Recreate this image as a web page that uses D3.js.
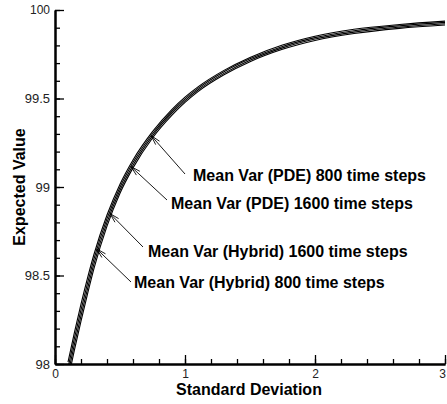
<!DOCTYPE html>
<html>
<head>
<meta charset="utf-8">
<script src="https://cdn.jsdelivr.net/npm/d3@7"></script>
<style>
  body { margin: 0; background: #fff; }
  svg { display: block; font-family: "Liberation Sans", Arial, Helvetica, sans-serif; }
</style>
</head>
<body>
<svg></svg>
<script>
// Data
//------------------------------------------
var stdDev = [0.10, 0.15, 0.20, 0.25, 0.30, 0.40, 0.50, 0.60, 0.75, 0.90,
              1.00, 1.10, 1.30, 1.50, 1.75, 2.00, 2.30, 2.65, 3.00];

var pde800     = [98.010, 98.180, 98.338, 98.485, 98.620, 98.842, 99.016, 99.153, 99.313, 99.439,
                  99.508, 99.566, 99.659, 99.732, 99.802, 99.852, 99.891, 99.918, 99.937];
var pde1600    = [97.977, 98.147, 98.306, 98.455, 98.594, 98.821, 98.999, 99.138, 99.301, 99.428,
                  99.498, 99.557, 99.651, 99.724, 99.794, 99.844, 99.883, 99.911, 99.930];
var hybrid1600 = [97.944, 98.114, 98.274, 98.425, 98.567, 98.800, 98.982, 99.123, 99.289, 99.417,
                  99.488, 99.548, 99.642, 99.716, 99.786, 99.836, 99.875, 99.903, 99.922];
var hybrid800  = [97.911, 98.081, 98.242, 98.395, 98.540, 98.779, 98.965, 99.108, 99.277, 99.406,
                  99.478, 99.539, 99.634, 99.708, 99.778, 99.828, 99.867, 99.896, 99.915];

var seriesNames = ["Mean Var (PDE) 800 time steps", "Mean Var (PDE) 1600 time steps",
                   "Mean Var (Hybrid) 1600 time steps", "Mean Var (Hybrid) 800 time steps"];
// where each arrow touches its curve (std dev, expected value)
var tipX = [0.74, 0.585, 0.423, 0.321];
var tipY = [99.29, 99.115, 98.85, 98.65];

var xMajor = [0, 1, 2, 3];
var yMajor = [98, 98.5, 99, 99.5, 100];

// Step 1: Set up chart
//------------------------------------------
var svgWidth = 447;
var svgHeight = 404;
var margin = { top: 10, right: 2, bottom: 40, left: 55 };
var width = svgWidth - margin.left - margin.right;
var height = svgHeight - margin.top - margin.bottom;

var svg = d3.select("svg")
    .attr("width", svgWidth)
    .attr("height", svgHeight);

var chartGroup = svg.append("g")
    .attr("transform", `translate(${margin.left},${margin.top})`);

// Step 2: Scales
//------------------------------------------
var xScale = d3.scaleLinear().domain([0, 3]).range([0, width]);
var yScale = d3.scaleLinear().domain([98, 100]).range([height, 0]);

// Step 3: Axes (ticks point inward)
//------------------------------------------
var xMinor = d3.range(0, 3.001, 0.2);
var yMinor = d3.range(98, 100.001, 0.1);

chartGroup.append("g")
    .attr("transform", `translate(0, ${height})`)
    .call(d3.axisBottom(xScale).tickValues(xMinor).tickSizeInner(-5).tickSizeOuter(0).tickFormat(""));

chartGroup.append("g")
    .call(d3.axisLeft(yScale).tickValues(yMinor).tickSizeInner(-5).tickSizeOuter(0).tickFormat(""));

var xAxis = chartGroup.append("g")
    .attr("transform", `translate(0, ${height})`)
    .call(d3.axisBottom(xScale).tickValues(xMajor).tickSizeInner(-9).tickSizeOuter(0)
        .tickPadding(5).tickFormat(d3.format("d")));

var yAxis = chartGroup.append("g")
    .call(d3.axisLeft(yScale).tickValues(yMajor).tickSizeInner(-9).tickSizeOuter(0)
        .tickPadding(5).tickFormat(d3.format("")));

chartGroup.selectAll(".domain").attr("stroke", "#000").attr("stroke-width", 2);
chartGroup.selectAll(".tick line").attr("stroke", "#000").attr("stroke-width", 1.3);
xAxis.selectAll("text").attr("font-size", 12).attr("fill", "#222");
yAxis.selectAll("text").attr("font-size", 13).attr("fill", "#222");
yAxis.selectAll(".tick").filter(d => d === 100).select("text").attr("font-size", 12);
// the last x label sits on the right edge, keep it inside
xAxis.selectAll(".tick").filter(d => d === 3).select("text").attr("dx", -3);

// axis titles
svg.append("text")
    .attr("x", 249)
    .attr("y", 395)
    .attr("text-anchor", "middle")
    .attr("font-size", 16)
    .attr("font-weight", "bold")
    .text("Standard Deviation");

svg.append("text")
    .attr("transform", `translate(25, ${margin.top + height / 2}) rotate(-90)`)
    .attr("text-anchor", "middle")
    .attr("font-size", 16)
    .attr("font-weight", "bold")
    .text("Expected Value");

// Step 4: The four curves
//------------------------------------------
svg.append("defs").append("clipPath").attr("id", "plotClip")
    .append("rect").attr("x", 0).attr("y", -2).attr("width", width + 2).attr("height", height + 2);

var line = d3.line()
    .x((d, i) => xScale(stdDev[i]))
    .y(d => yScale(d))
    .curve(d3.curveMonotoneX);

chartGroup.append("g")
    .attr("clip-path", "url(#plotClip)")
    .selectAll("path")
    .data([pde800, pde1600, hybrid1600, hybrid800])
    .enter()
    .append("path")
    .attr("d", line)
    .attr("fill", "none")
    .attr("stroke", "#000")
    .attr("stroke-width", 1.1);

// Step 5: Labels with arrows
//------------------------------------------
var labelPos = [
  { tx: 193, ty: 181, ax: 185, ay: 174 },
  { tx: 171, ty: 209, ax: 167, ay: 200 },
  { tx: 148, ty: 257, ax: 143, ay: 247 },
  { tx: 134, ty: 288, ax: 131, ay: 282 }
];

seriesNames.forEach(function(name, i) {
  var p = labelPos[i];
  var px = xScale(tipX[i]) + margin.left;
  var py = yScale(tipY[i]) + margin.top;
  var ang = Math.atan2(p.ay - py, p.ax - px);
  var len = 10, spread = 0.26;
  var h1 = [px + len * Math.cos(ang + spread), py + len * Math.sin(ang + spread)];
  var h2 = [px + len * Math.cos(ang - spread), py + len * Math.sin(ang - spread)];

  svg.append("path")
      .attr("d", `M${p.ax},${p.ay}L${px},${py}M${h1[0]},${h1[1]}L${px},${py}L${h2[0]},${h2[1]}`)
      .attr("fill", "none")
      .attr("stroke", "#000")
      .attr("stroke-width", 0.9);

  svg.append("text")
      .attr("x", p.tx)
      .attr("y", p.ty)
      .attr("font-size", 16)
      .attr("font-weight", "bold")
      .text(name);
});
</script>
</body>
</html>
